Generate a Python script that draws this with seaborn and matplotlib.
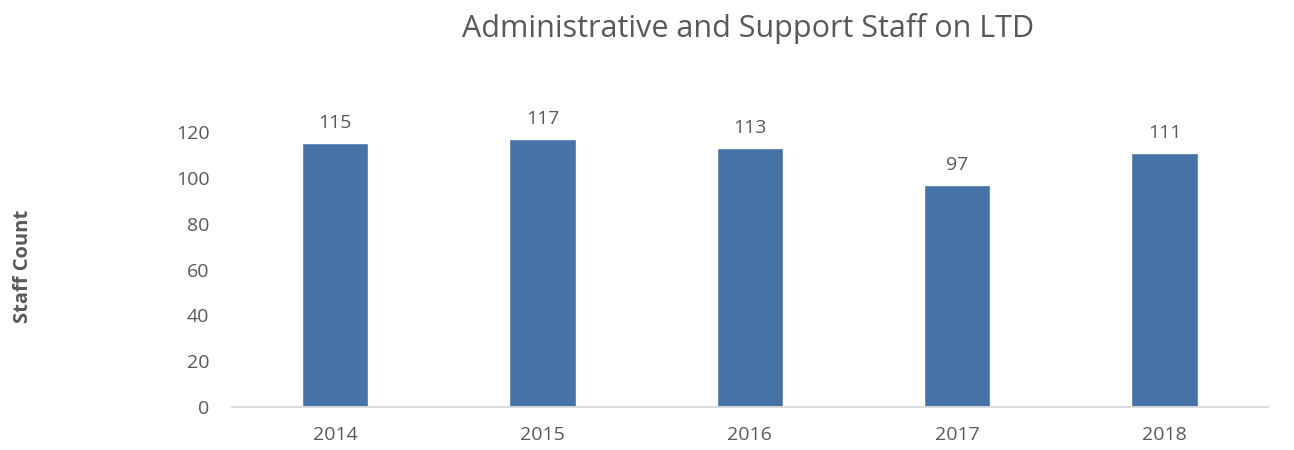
import pandas as pd
import matplotlib
matplotlib.use("Agg")
import matplotlib.pyplot as plt
import seaborn as sns

# data
years = ["2014", "2015", "2016", "2017", "2018"]
staff_count = [115, 117, 113, 97, 111]

df = pd.DataFrame({"year": years, "count": staff_count})

sns.set_theme(style="white")
plt.rcParams["font.family"] = ["Open Sans", "DejaVu Sans"]

text_col = "#595959"
bar_col = "#4573A7"

fig = plt.figure(figsize=(12.94, 4.5), dpi=100)
ax = fig.add_axes([0.179, 0.0956, 0.801, 0.611])

sns.barplot(x="year", y="count", data=df, color=bar_col, width=0.32,
            saturation=1, errorbar=None, ax=ax)

for i, v in enumerate(staff_count):
    ax.annotate(str(v), (i, v), xytext=(0, 8), textcoords="offset points",
                ha="center", va="bottom", fontsize=14, color=text_col)

ax.set_ylim(0, 120)
ax.set_yticks(range(0, 121, 20))
ax.set_xlim(-0.5, 4.5)
ax.set_xlabel("")
ax.set_ylabel("")

for s in ["top", "right", "left"]:
    ax.spines[s].set_visible(False)
ax.spines["bottom"].set_color("#D9D9D9")
ax.spines["bottom"].set_linewidth(1.3)

ax.tick_params(axis="both", length=0, labelsize=14, colors=text_col)
ax.tick_params(axis="y", pad=16)
ax.tick_params(axis="x", pad=14)

fig.text(0.578, 0.937, "Administrative and Support Staff on LTD",
         ha="center", va="center", fontsize=22, color=text_col)
fig.text(0.018, 0.409, "Staff Count", rotation=90, ha="center", va="center",
         fontsize=14.5, fontweight="bold", color=text_col)

fig.savefig("out.png", dpi=100)
